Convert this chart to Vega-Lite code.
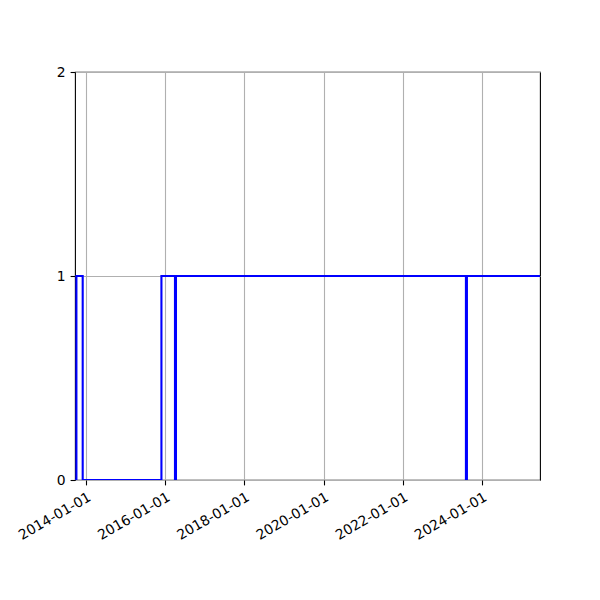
{
  "$schema": "https://vega.github.io/schema/vega-lite/v6.json",
  "width": 465,
  "height": 408,
  "autosize": {"type": "none"},
  "padding": {"left": 75, "top": 72, "right": 60, "bottom": 120},
  "background": "white",
  "config": {
    "font": "DejaVu Sans",
    "view": {"stroke": "black", "strokeWidth": 1.1}
  },
  "data": {
    "values": [
      {"date": "2013-09-22", "value": 0},
      {"date": "2013-10-05", "value": 1},
      {"date": "2013-12-02", "value": 0},
      {"date": "2015-11-28", "value": 1},
      {"date": "2016-04-01", "value": 0},
      {"date": "2016-04-10", "value": 1},
      {"date": "2023-08-06", "value": 0},
      {"date": "2023-08-15", "value": 1},
      {"date": "2025-06-19", "value": 1}
    ]
  },
  "mark": {"type": "line", "interpolate": "step-after", "color": "#0000ff", "strokeWidth": 2.1, "clip": true},
  "encoding": {
    "x": {
      "field": "date",
      "type": "temporal",
      "scale": {"type": "utc", "domain": ["2013-09-22", "2025-06-19"], "nice": false},
      "axis": {
        "title": null,
        "domain": false,
        "tickCount": {"interval": "year", "step": 2},
        "labelExpr": "utcFormat(datum.value, '%Y-%m-%d')",
        "labelFont": "DejaVu Sans",
        "labelFontSize": 13.9,
        "labelColor": "black",
        "tickColor": "black",
        "tickSize": 4.9,
        "tickWidth": 1.1,
        "labelPadding": 4.9,
        "labelAngle": -30,
        "labelAlign": "right",
        "labelBaseline": "top",
        "labelOverlap": false,
        "labelFlush": false,
        "grid": true,
        "gridColor": "#b0b0b0",
        "gridWidth": 1.1,
        "gridOpacity": 1
      }
    },
    "y": {
      "field": "value",
      "type": "quantitative",
      "scale": {"domain": [0, 2], "nice": false, "zero": false},
      "axis": {
        "title": null,
        "domain": false,
        "values": [0, 1, 2],
        "labelExpr": "format(datum.value, 'd')",
        "labelFont": "DejaVu Sans",
        "labelFontSize": 13.9,
        "labelColor": "black",
        "tickColor": "black",
        "tickSize": 4.9,
        "tickWidth": 1.1,
        "labelPadding": 4.9,
        "labelOverlap": false,
        "labelFlush": false,
        "grid": true,
        "gridColor": "#b0b0b0",
        "gridWidth": 1.1,
        "gridOpacity": 1
      }
    }
  }
}
